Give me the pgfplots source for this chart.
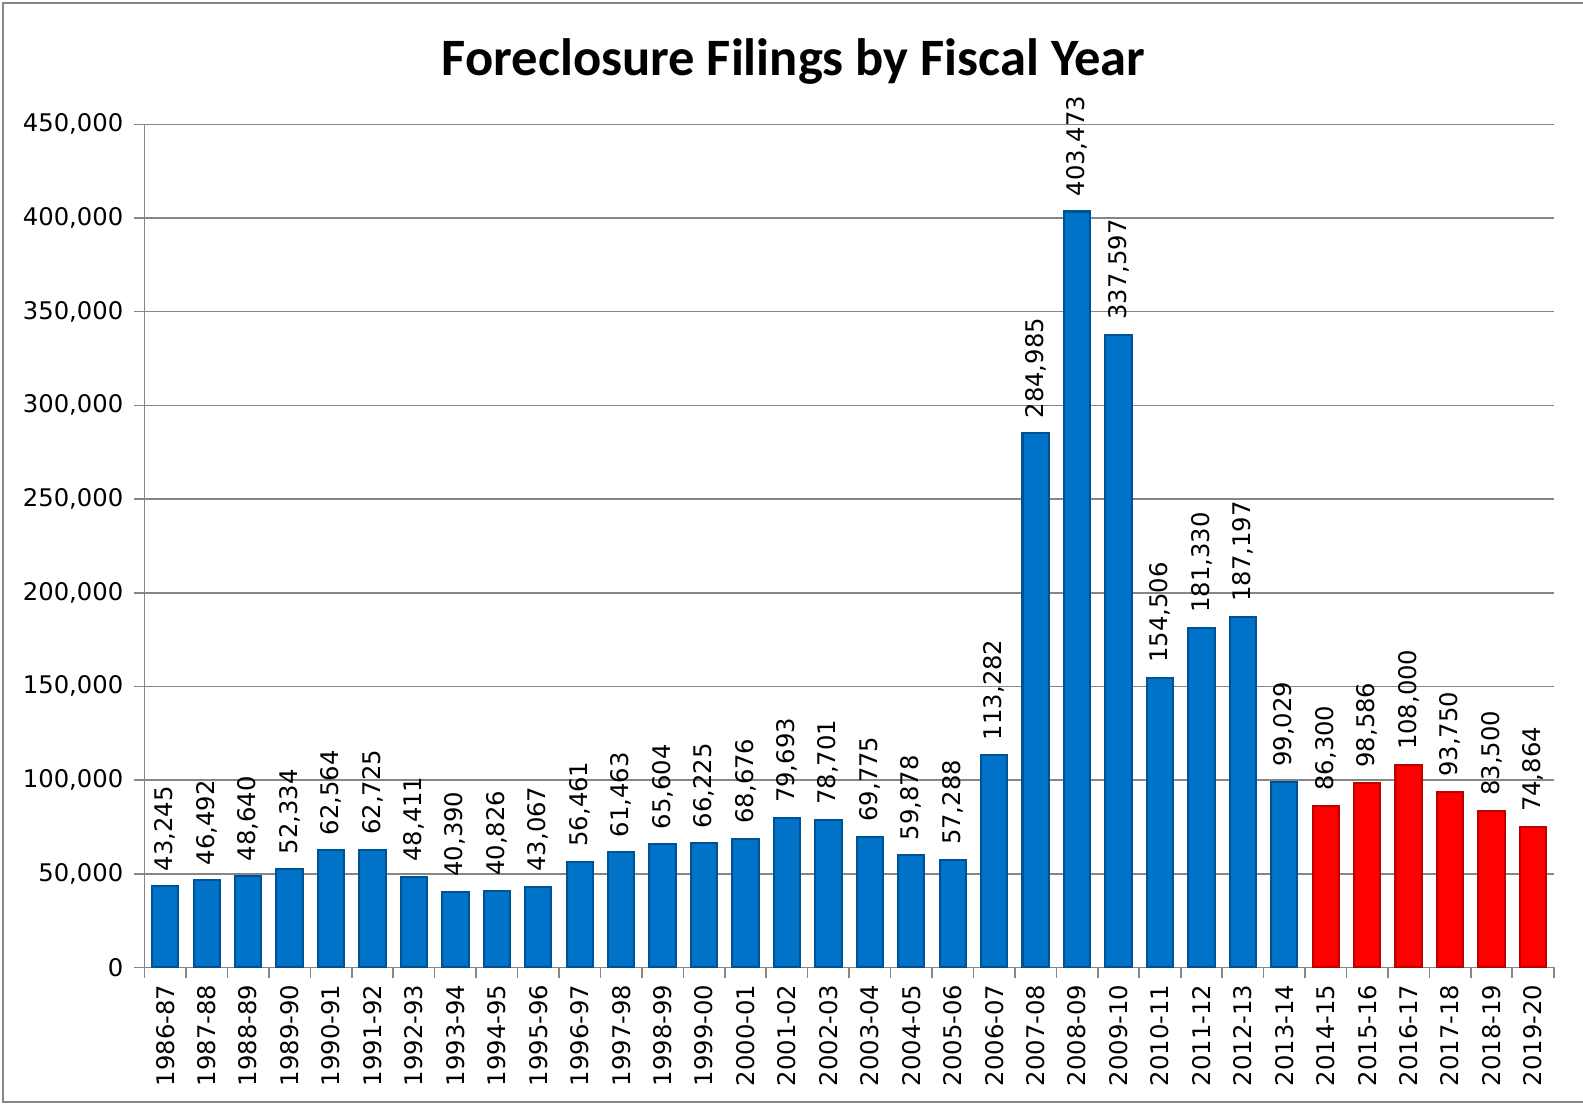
\documentclass[border=0pt]{standalone}
\usepackage{fontspec}
\setmainfont{DejaVu Sans}
\newfontfamily\titlefont{Carlito}
\usepackage{pgfplots}
\pgfplotsset{compat=1.18}
\usepackage{pgfplotstable}

\definecolor{barblue}{RGB}{0,114,200}
\definecolor{barbluedark}{RGB}{0,82,150}
\definecolor{barred}{RGB}{255,0,0}
\definecolor{barreddark}{RGB}{190,0,0}
\definecolor{axgray}{RGB}{134,134,134}

% filings per fiscal year, index 0 = 1986-87
\pgfplotstableread{
x y
0 43245
1 46492
2 48640
3 52334
4 62564
5 62725
6 48411
7 40390
8 40826
9 43067
10 56461
11 61463
12 65604
13 66225
14 68676
15 79693
16 78701
17 69775
18 59878
19 57288
20 113282
21 284985
22 403473
23 337597
24 154506
25 181330
26 187197
27 99029
}\bluedata
\pgfplotstableread{
x y
28 86300
29 98586
30 108000
31 93750
32 83500
33 74864
}\reddata

\begin{document}
\begin{tikzpicture}
\begin{axis}[
    at={(0,0)}, anchor=south west,
    scale only axis,
    width=697pt, height=417pt,
    xmin=-0.5, xmax=33.5,
    ymin=0, ymax=450000,
    ytick={0,50000,...,450000},
    scaled y ticks=false,
    xtick={0,...,33},
    xticklabels={1986-87,1987-88,1988-89,1989-90,1990-91,1991-92,1992-93,1993-94,1994-95,1995-96,1996-97,1997-98,1998-99,1999-00,2000-01,2001-02,2002-03,2003-04,2004-05,2005-06,2006-07,2007-08,2008-09,2009-10,2010-11,2011-12,2012-13,2013-14,2014-15,2015-16,2016-17,2017-18,2018-19,2019-20},
    minor xtick={-0.5,0.5,...,33.5},
    major x tick style={draw=none},
    minor tick length=5pt,
    major tick length=5pt,
    tick align=outside,
    axis x line*=bottom,
    axis y line*=left,
    axis line style={axgray, line width=0.8pt},
    tick style={axgray, line width=0.8pt},
    ymajorgrids=true,
    grid style={axgray, line width=0.8pt},
    ticklabel style={font=\fontsize{12}{14}\selectfont},
    x tick label style={rotate=90, anchor=east},
    y tick label style={xshift=-2pt},
    /pgf/number format/assume math mode=true,
    yticklabel style={/pgf/number format/fixed, /pgf/number format/1000 sep={,}},
    ybar, bar width=13pt, bar shift=0pt,
    nodes near coords={\pgfmathprintnumber[fixed,precision=0,1000 sep={,},assume math mode=true]{\pgfplotspointmeta}},
    nodes near coords style={rotate=90, anchor=west, inner xsep=7pt, font=\fontsize{12}{14}\selectfont, text=black},
    clip=false,
]
\addplot[draw=barbluedark, line width=1pt, fill=barblue] table[x=x,y=y] {\bluedata};
\addplot[draw=barreddark, line width=1pt, fill=barred] table[x=x,y=y] {\reddata};
\end{axis}
\node[anchor=base, font=\titlefont\bfseries\fontsize{26}{30}\selectfont] at (321pt,441pt) {Foreclosure Filings by Fiscal Year};
\draw[axgray, line width=0.8pt] (-70pt,-66.5pt) rectangle (725pt,477pt);
\pgfresetboundingbox
\path[use as bounding box] (-71.5pt,-67.5pt) rectangle (711.5pt,478.5pt);
\end{tikzpicture}
\end{document}
